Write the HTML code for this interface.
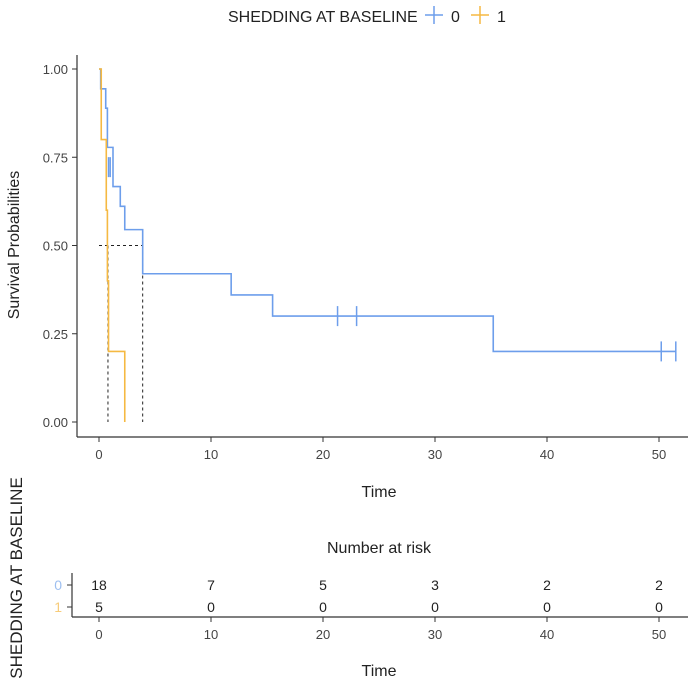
<!DOCTYPE html>
<html><head><meta charset="utf-8"><style>
body{margin:0;background:#fff;font-family:"Liberation Sans",sans-serif;}
</style></head><body>
<svg id="c" width="688" height="694" xmlns="http://www.w3.org/2000/svg" font-family="Liberation Sans, sans-serif">
<g>
<text x="228" y="22" font-size="16" fill="#222">SHEDDING AT BASELINE</text>
<g><line x1="425" y1="15" x2="443" y2="15" stroke="#6d9eeb" stroke-width="1.5"/><line x1="434" y1="6" x2="434" y2="24" stroke="#6d9eeb" stroke-width="1.5"/><text x="451" y="22" font-size="16" fill="#222">0</text></g>
<g><line x1="471" y1="15" x2="489" y2="15" stroke="#f5b942" stroke-width="1.5"/><line x1="480" y1="6" x2="480" y2="24" stroke="#f5b942" stroke-width="1.5"/><text x="497" y="22" font-size="16" fill="#222">1</text></g>
</g>
<text transform="translate(19,245) rotate(-90)" text-anchor="middle" font-size="16" fill="#222">Survival Probabilities</text>
<text x="379" y="497" text-anchor="middle" font-size="16" fill="#222">Time</text>
<text x="379" y="553" text-anchor="middle" font-size="16" fill="#222">Number at risk</text>
<text transform="translate(22,578) rotate(-90)" text-anchor="middle" font-size="17" fill="#222">SHEDDING AT BASELINE</text>
<text x="379" y="676" text-anchor="middle" font-size="16" fill="#222">Time</text>
<g id="g"></g>
</svg>
<script>
const xTicks=[0,10,20,30,40,50];
const yTicks=[0,0.25,0.5,0.75,1];
const yTickLabels=["0.00","0.25","0.50","0.75","1.00"];
const times0=[0,0.15,0.6,0.75,1.25,1.9,2.3,3.9,11.8,15.5,35.2,51.5];
const surv0=[1,0.944,0.889,0.778,0.667,0.611,0.545,0.42,0.36,0.30,0.20,0.20];
const censor0=[0.85,1.0,21.3,23.0,50.2,51.5];
const censorSurv0=[0.722,0.722,0.30,0.30,0.20,0.20];
const times1=[0,0.2,0.65,0.75,0.85,2.3];
const surv1=[1,0.8,0.6,0.4,0.2,0];
const median0=3.9, median1=0.8;
const riskGroups=["0","1"];
const risk0=[18,7,5,3,2,2];
const risk1=[5,0,0,0,0,0];
const NS="http://www.w3.org/2000/svg";
const g=document.getElementById('g');
const X=t=>99+t*11.2;
const Y=s=>422-s*353;
function el(tag,a,parent){const e=document.createElementNS(NS,tag);for(const k in a)e.setAttribute(k,a[k]);(parent||g).appendChild(e);return e;}
let ax=el('line',{x1:77,y1:437,x2:688,y2:437,stroke:'#333','stroke-width':1.2});


ax=el('line',{x1:77,y1:55,x2:77,y2:437,stroke:'#333','stroke-width':1.2});


xTicks.forEach(t=>{el('line',{x1:X(t),y1:437,x2:X(t),y2:442,stroke:'#333'});
 const tx=el('text',{x:X(t),y:459,'text-anchor':'middle','font-size':13,fill:'#444'});tx.textContent=t;
 
 });
yTicks.forEach((v,i)=>{el('line',{x1:72,y1:Y(v),x2:77,y2:Y(v),stroke:'#333'});
 const tx=el('text',{x:68,y:Y(v)+5,'text-anchor':'end','font-size':13,fill:'#444'});tx.textContent=yTickLabels[i];
 
 });
function step(ts,ss){let d='M'+X(ts[0])+','+Y(ss[0]);for(let i=1;i<ts.length;i++){d+='H'+X(ts[i])+'V'+Y(ss[i]);}return d;}
const md=el('path',{d:`M${X(0)},${Y(0.5)}H${X(median0)}M${X(median1)},${Y(0.5)}V${Y(0)}M${X(median0)},${Y(0.5)}V${Y(0)}`,stroke:'#222','stroke-dasharray':'3,3',fill:'none'});


const c0=el('path',{d:step(times0,surv0),stroke:'#6d9eeb','stroke-width':1.6,fill:'none'});


const c1=el('path',{d:step(times1,surv1),stroke:'#f5b942','stroke-width':1.6,fill:'none'});


censor0.forEach((t,i)=>{const m=el('line',{x1:X(t),y1:Y(censorSurv0[i])-10,x2:X(t),y2:Y(censorSurv0[i])+10,stroke:'#6d9eeb','stroke-width':1.5});
 
 });
el('line',{x1:72,y1:573,x2:72,y2:617,stroke:'#333','stroke-width':1.2});
el('line',{x1:72,y1:617,x2:688,y2:617,stroke:'#333','stroke-width':1.2});
xTicks.forEach((t,i)=>{el('line',{x1:X(t),y1:617,x2:X(t),y2:622,stroke:'#333'});
 const tx=el('text',{x:X(t),y:639,'text-anchor':'middle','font-size':13,fill:'#444'});tx.textContent=t;
 
 
 [[risk0,585],[risk1,607]].forEach(([r,y])=>{const v=el('text',{x:X(t),y:y+5,'text-anchor':'middle','font-size':14,fill:'#222'});v.textContent=r[i];
 
 });});
[['#9dbff0',585],['#f7cc7a',607]].forEach(([c,y],i)=>{el('line',{x1:67,y1:y,x2:72,y2:y,stroke:'#333'});
 const tx=el('text',{x:62,y:y+5,'text-anchor':'end','font-size':14,fill:c});tx.textContent=riskGroups[i];
 
 });
</script>
</body></html>
